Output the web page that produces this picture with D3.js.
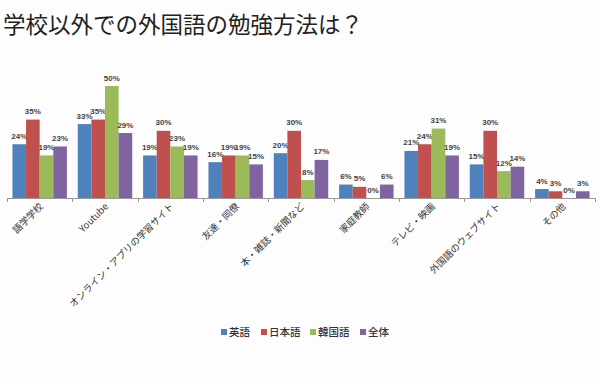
<!DOCTYPE html>
<html><head><meta charset="utf-8">
<script src="https://cdn.jsdelivr.net/npm/d3@7"></script>
<style>
html,body{margin:0;padding:0;background:#fdfdfd;}
svg{display:block;}
</style></head>
<body>
<svg id="chart" width="600" height="383"></svg>
<script>
const categories = ["語学学校","Youtube","オンライン・アプリの学習サイト","友達・同僚","本・雑誌・新聞など","家庭教師","テレビ・映画","外国語のウェブサイト","その他"];
const seriesNames = ["英語","日本語","韓国語","全体"];
const english  = [24,33,19,16,20,6,21,15,4];
const japanese = [35,35,30,19,30,5,24,30,3];
const korean   = [19,50,23,19,8,0,31,12,0];
const overall  = [23,29,19,15,17,6,19,14,3];
const colors = ["#4F81BD","#C0504D","#9BBB59","#8064A2"];
const seriesValues = [english, japanese, korean, overall];

const svg = d3.select("#chart");
const W = 600, H = 383;
svg.append("rect").attr("width",W).attr("height",H).attr("fill","#fdfdfd");

svg.append("text").attr("x",3).attr("y",33)
  .attr("font-family","'Noto Sans CJK JP', sans-serif").attr("font-size",22.5)
  .attr("fill","#222").text("学校以外での外国語の勉強方法は？");

const x0 = d3.scaleBand().domain(categories).range([7,595]).paddingInner(0).paddingOuter(0);
const x1 = d3.scaleBand().domain(seriesNames).range([0,x0.bandwidth()]).paddingOuter(0.4).paddingInner(0);
const y = d3.scaleLinear().domain([0,50]).range([198,86]);

const groups = svg.append("g").selectAll("g").data(categories).join("g")
  .attr("transform", d => `translate(${x0(d)},0)`);

groups.each(function(cat, ci){
  const g = d3.select(this);
  seriesNames.forEach((s, si) => {
    const v = seriesValues[si][ci];
    g.append("rect").attr("x", x1(s)).attr("width", x1.bandwidth())
      .attr("y", y(v)).attr("height", y(0)-y(v)).attr("fill", colors[si]);
    g.append("text").attr("x", x1(s)+x1.bandwidth()/2).attr("y", y(v)-5.5)
      .attr("text-anchor","middle").attr("font-family","'Liberation Sans', Arial, sans-serif")
      .attr("font-size",8).attr("font-weight","bold").attr("fill","#444").text(v+"%");
  });
});

// axis line and ticks
const axisG = svg.append("g");
axisG.append("line").attr("x1",x0.range()[0]).attr("x2",x0.range()[1]).attr("y1",198.5).attr("y2",198.5)
  .attr("stroke","#999").attr("stroke-width",1);
const tickXs = categories.map(c => x0(c)).concat([x0.range()[1]]);
axisG.selectAll("line.tick").data(tickXs).join("line").attr("class","tick")
  .attr("x1", d => Math.round(d)+0.5).attr("x2", d => Math.round(d)+0.5)
  .attr("y1",198).attr("y2",202).attr("stroke","#999");

// rotated category labels
svg.append("g").selectAll("text").data(categories).join("text")
  .attr("transform", d => `translate(${x0(d)+x0.bandwidth()/2+4},${207}) rotate(-45)`)
  .attr("text-anchor","end")
  .attr("font-family","'Noto Sans CJK JP', 'Liberation Sans', sans-serif")
  .attr("font-size",9.5).attr("fill","#333").text(d => d);

// legend
const legendX = [221, 261, 310, 360];
const lg = svg.append("g");
seriesNames.forEach((s, i) => {
  lg.append("rect").attr("x", legendX[i]).attr("y", 329).attr("width",6).attr("height",6).attr("fill",colors[i]);
  lg.append("text").attr("x", legendX[i]+8).attr("y", 336)
    .attr("font-family","'Noto Sans CJK JP', sans-serif").attr("font-size",10.5)
    .attr("font-weight","500").attr("fill","#333").text(s);
});
</script>
</body></html>
